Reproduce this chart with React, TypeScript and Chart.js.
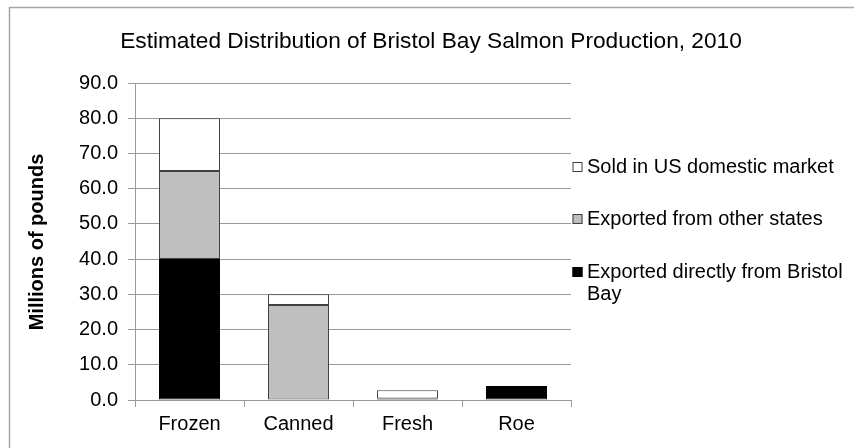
import React, { useEffect, useRef } from "react";
import { Chart, registerables } from "chart.js";

Chart.register(...registerables);

const categories = ["Frozen", "Canned", "Fresh", "Roe"];
const directFromBristol = [40, null, 0.4, 4.0];
const otherStates = [25, 27, null, null];
const usDomestic = [15, 3, 2.4, null];
const yTicks = [0, 10, 20, 30, 40, 50, 60, 70, 80, 90];

const titleText = "Estimated Distribution of Bristol Bay Salmon Production, 2010";
const yTitle = "Millions of pounds";
const legendItems = [
  { lines: ["Sold in US domestic market"], fill: "#ffffff", stroke: "#404040" },
  { lines: ["Exported from other states"], fill: "#bfbfbf", stroke: "#404040" },
  { lines: ["Exported directly from Bristol", "Bay"], fill: "#000000", stroke: "#000000" },
];

const FONT = "'Liberation Sans', Arial, sans-serif";
const GRID = "#9a9a9a";

const decorPlugin = {
  id: "decor",
  afterDraw(chart: any) {
    const ctx = chart.ctx;
    const area = chart.chartArea;
    ctx.save();
    // frame
    ctx.strokeStyle = "#a6a6a6";
    ctx.lineWidth = 1.5;
    ctx.beginPath();
    ctx.moveTo(9.5, 460);
    ctx.lineTo(9.5, 7.5);
    ctx.lineTo(870, 7.5);
    ctx.stroke();
    // title
    ctx.fillStyle = "#000";
    ctx.font = `22.7px ${FONT}`;
    ctx.textAlign = "center";
    ctx.textBaseline = "middle";
    ctx.fillText(titleText, 431, 42);
    // y title
    ctx.save();
    ctx.translate(37, 242);
    ctx.rotate(-Math.PI / 2);
    ctx.font = `bold 20px ${FONT}`;
    ctx.fillText(yTitle, 0, 0);
    ctx.restore();
    // legend
    ctx.font = `20px ${FONT}`;
    ctx.textAlign = "left";
    const rows = [167, 219, 272];
    legendItems.forEach((it, i) => {
      const y = rows[i];
      const bx = area.right + 1.5;
      ctx.fillStyle = it.fill;
      ctx.fillRect(bx, y - 5, 10, 10);
      ctx.strokeStyle = it.stroke;
      ctx.lineWidth = 1;
      ctx.strokeRect(bx + 0.5, y - 4.5, 9, 9);
      ctx.fillStyle = "#000";
      it.lines.forEach((ln, j) => {
        ctx.fillText(ln, area.right + 16, y + j * 22);
      });
    });
    ctx.restore();
  },
};

export default function App() {
  const ref = useRef<HTMLCanvasElement>(null);
  useEffect(() => {
    if (!ref.current) return;
    const mk = (label: string, data: any[], bg: string, border: string) => ({
      label,
      data,
      backgroundColor: bg,
      borderColor: border,
      borderWidth: 1,
      borderSkipped: false,
      categoryPercentage: 1,
      barPercentage: 0.56,
    });
    const chart = new Chart(ref.current, {
      type: "bar",
      data: {
        labels: categories,
        datasets: [
          mk("Exported directly from Bristol Bay", directFromBristol, "#000000", "#000000"),
          mk("Exported from other states", otherStates, "#bfbfbf", "#404040"),
          mk("Sold in US domestic market", usDomestic, "#ffffff", "#404040"),
        ],
      },
      options: {
        responsive: false,
        animation: false,
        layout: { padding: { left: 60, top: 83, right: 283, bottom: 0 } },
        plugins: {
          legend: { display: false },
          title: { display: false },
          tooltip: { enabled: false },
        },
        scales: {
          x: {
            stacked: true,
            grid: { drawOnChartArea: false, drawTicks: true, tickLength: 7, color: GRID, offset: true },
            border: { display: true, color: GRID },
            ticks: { color: "#000", font: { family: FONT, size: 20 }, padding: 5 },
            afterFit: (s: any) => { s.height = 48; },
          },
          y: {
            stacked: true,
            min: 0,
            max: 90,
            afterBuildTicks: (s: any) => { s.ticks = yTicks.map((v) => ({ value: v })); },
            grid: { color: GRID, tickLength: 7 },
            border: { display: true, color: GRID },
            ticks: {
              color: "#000",
              font: { family: FONT, size: 20 },
              padding: 10,
              callback: (v: any) => Number(v).toFixed(1),
            },
            afterFit: (s: any) => { s.width = 75; },
          },
        },
      },
      plugins: [decorPlugin],
    });
    return () => chart.destroy();
  }, []);
  return (
    <div style={{ position: "fixed", left: 0, top: 0, width: 854, height: 448, background: "#fff" }}>
      <canvas ref={ref} width={854} height={448} style={{ display: "block" }} />
    </div>
  );
}
